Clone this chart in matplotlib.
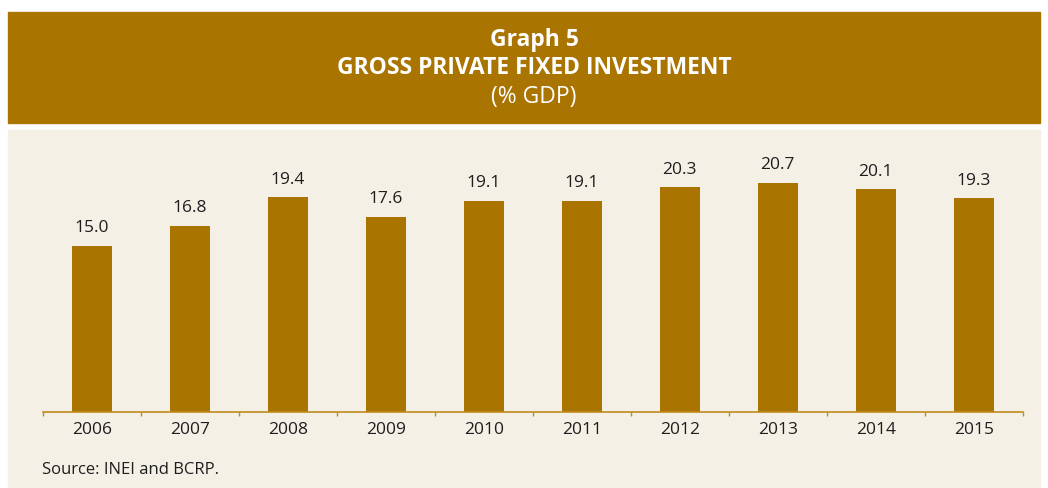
import matplotlib.pyplot as plt
from matplotlib.patches import Rectangle
import numpy as np

years = ['2006', '2007', '2008', '2009', '2010', '2011', '2012', '2013', '2014', '2015']
investment = [15.0, 16.8, 19.4, 17.6, 19.1, 19.1, 20.3, 20.7, 20.1, 19.3]

gold = '#A97400'
beige = '#F4F0E6'
text_dark = '#1E1E1E'

plt.rcParams['font.family'] = ['Open Sans', 'DejaVu Sans']

W, H = 1048, 488
fig = plt.figure(figsize=(W / 100, H / 100), dpi=100)
fig.patch.set_facecolor('white')

# header band and chart panel, kept behind the axes
fig.patches.append(Rectangle((8 / W, 1 - 123 / H), 1032 / W, 111 / H,
                             transform=fig.transFigure, color=gold, zorder=-10))
fig.patches.append(Rectangle((8 / W, 0), 1032 / W, 1 - 130 / H,
                             transform=fig.transFigure, color=beige, zorder=-10))

fig.text(534 / W, 1 - 40 / H, 'Graph 5', color='white', fontsize=16.5,
         fontweight='bold', ha='center', va='center')
fig.text(534 / W, 1 - 68 / H, 'GROSS PRIVATE FIXED INVESTMENT', color='white',
         fontsize=16.5, fontweight='bold', ha='center', va='center')
fig.text(534 / W, 1 - 97 / H, '(% GDP)', color='white', fontsize=16.5,
         ha='center', va='center')

ax_left, ax_right = 42.7, 1022.7
ax_bottom, ax_top = 412, 140
ax = fig.add_axes([ax_left / W, 1 - ax_bottom / H,
                   (ax_right - ax_left) / W, (ax_bottom - ax_top) / H])
ax.set_facecolor('none')

x = np.arange(len(years))
bars = ax.bar(x, investment, width=0.41, color=gold, zorder=2)
for xi, v in zip(x, investment):
    ax.annotate(f'{v:.1f}', (xi, v), xytext=(0, 7), textcoords='offset points',
                ha='center', va='bottom', fontsize=12.5, color=text_dark)

ax.set_xlim(-0.5, len(years) - 0.5)
ax.set_ylim(0, (ax_bottom - ax_top) / 11.07)

for side in ['top', 'right', 'left']:
    ax.spines[side].set_visible(False)
ax.spines['bottom'].set_color('#C08A1E')
ax.spines['bottom'].set_linewidth(1.2)

ax.set_yticks([])
ax.set_xticks(x)
ax.set_xticklabels(years, fontsize=12.5, color=text_dark)
ax.tick_params(axis='x', which='major', length=0, pad=7)
ax.set_xticks(np.arange(-0.5, len(years)), minor=True)
ax.tick_params(axis='x', which='minor', length=3, width=1, color='#C08A1E')

fig.text(42 / W, 1 - 470 / H, 'Source: INEI and BCRP.', fontsize=12,
         color=text_dark, ha='left', va='center')

fig.savefig('out.png', dpi=100)
